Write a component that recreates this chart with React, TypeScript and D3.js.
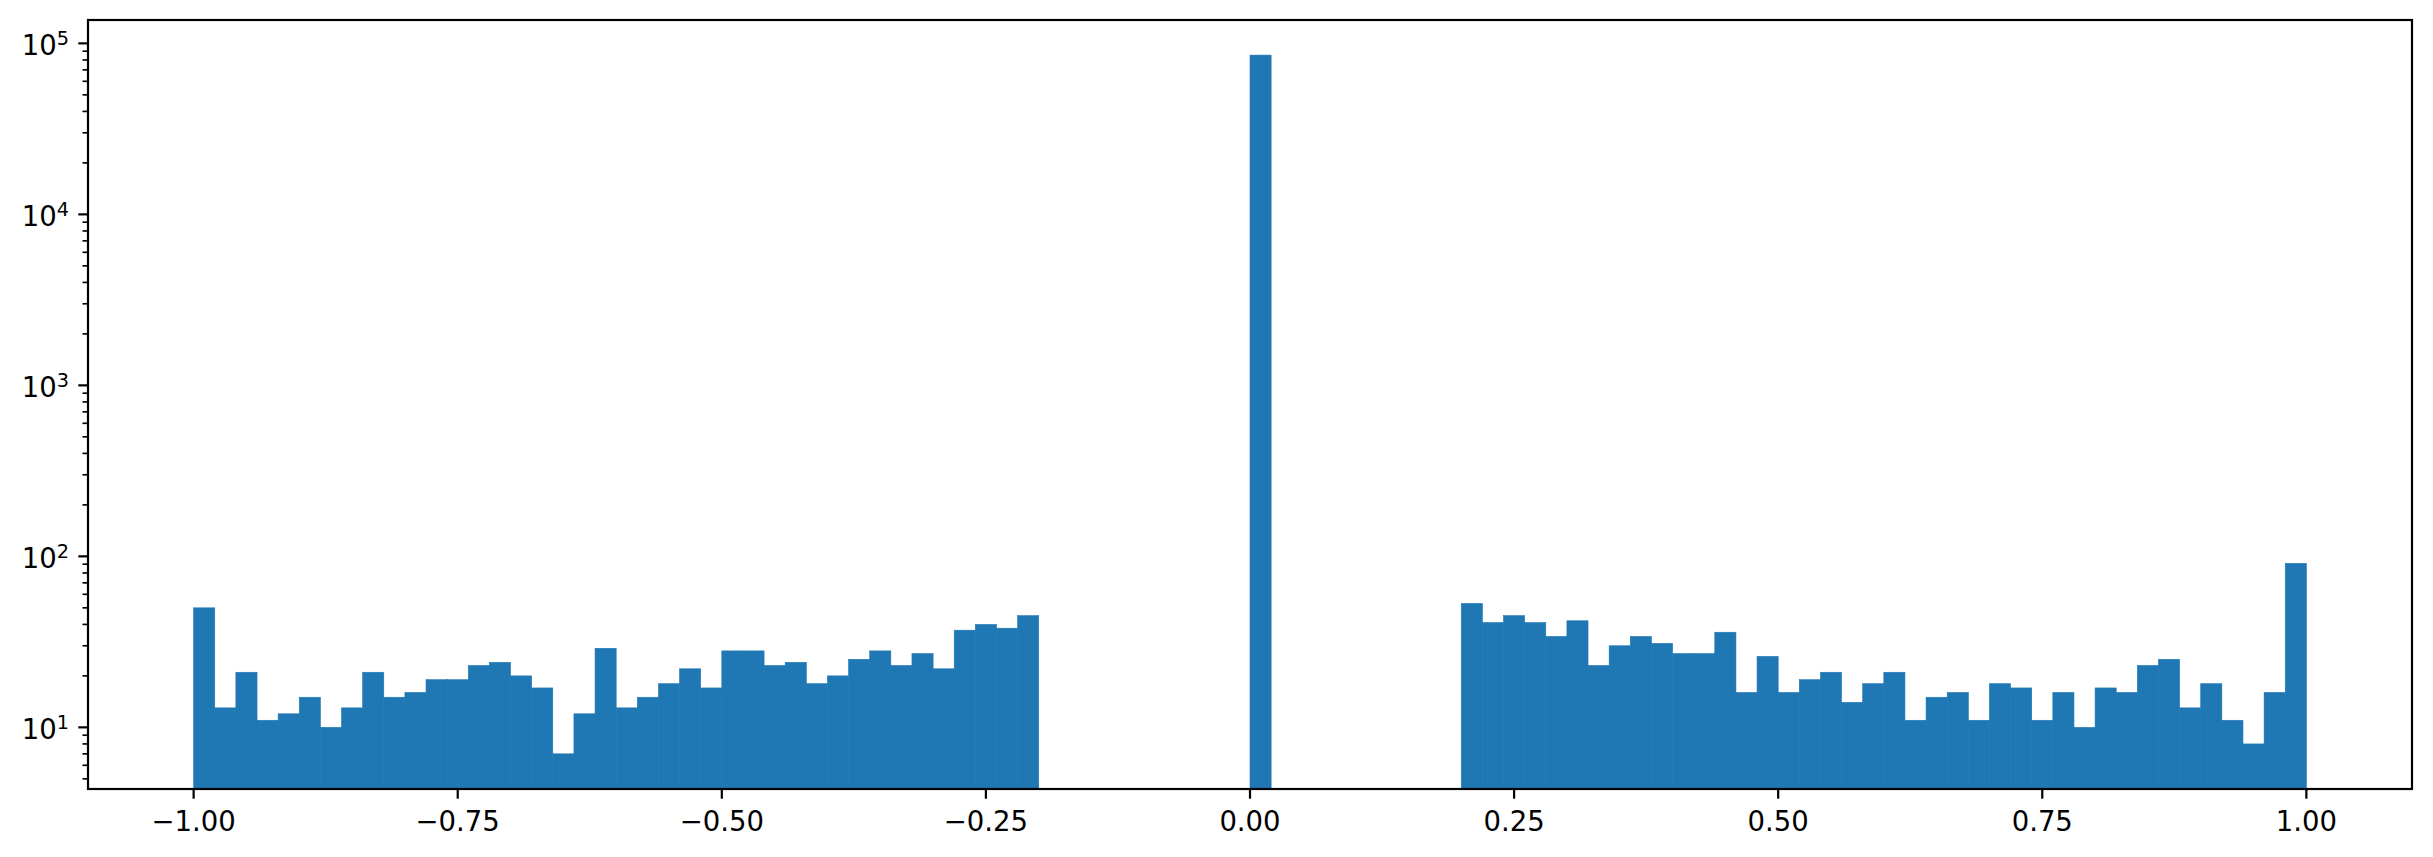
import * as React from 'react';
import { scaleLinear, scaleLog } from 'd3';

// histogram counts, bin width 0.02
const BIN_WIDTH = 0.02;
// bins starting at -1.00 ... -0.22
const leftStart = -1.0;
const leftCounts = [
  50, 13, 21, 11, 12, 15, 10, 13, 21, 15,
  16, 19, 19, 23, 24, 20, 17, 7, 12, 29,
  13, 15, 18, 22, 17, 28, 28, 23, 24, 18,
  20, 25, 28, 23, 27, 22, 37, 40, 38, 45,
];
// bin 0.00 - 0.02
const centerStart = 0.0;
const centerCounts = [85400];
// bins starting at 0.20 ... 0.98
const rightStart = 0.2;
const rightCounts = [
  53, 41, 45, 41, 34, 42, 23, 30, 34, 31,
  27, 27, 36, 16, 26, 16, 19, 21, 14, 18,
  21, 11, 15, 16, 11, 18, 17, 11, 16, 10,
  17, 16, 23, 25, 13, 18, 11, 8, 16, 91,
];

const xTicks = [-1, -0.75, -0.5, -0.25, 0, 0.25, 0.5, 0.75, 1];
const yMajor = [1, 2, 3, 4, 5];

const W = 2433, H = 857;
const M = { left: 88, right: 2412, top: 20, bottom: 789 };
const BLUE = '#1f77b4';
const FONT = 'DejaVu Sans, sans-serif';
const FS = 27.5;
const TICK = 9.7;
const MINOR = 5.5;
const LW = 2.2;

export default function App() {
  const x = scaleLinear().domain([-1.1, 1.1]).range([M.left, M.right]);
  const y = scaleLog().domain([4.36, 137000]).range([M.bottom, M.top]);

  const bars: { x0: number; v: number }[] = [];
  [[leftStart, leftCounts], [centerStart, centerCounts], [rightStart, rightCounts]].forEach(
    ([start, counts]: any) => {
      (counts as number[]).forEach((v, i) => {
        bars.push({ x0: (start as number) + i * BIN_WIDTH, v });
      });
    }
  );

  const [d0, d1] = y.domain();
  const minor: number[] = [];
  for (let e = 0; e <= 5; e++) {
    for (let m = 2; m <= 9; m++) {
      const v = m * Math.pow(10, e);
      if (v >= d0 && v <= d1) minor.push(v);
    }
  }

  return (
    <svg width={W} height={H} style={{ position: 'fixed', left: 0, top: 0, background: '#fff' }}
      fontFamily={FONT}>
      <defs>
        <clipPath id="plot">
          <rect x={M.left} y={M.top} width={M.right - M.left} height={M.bottom - M.top} />
        </clipPath>
      </defs>
      <rect x={0} y={0} width={W} height={H} fill="#fff" />
      <g clipPath="url(#plot)">
        {bars.map((b, i) => {
          const x0 = x(b.x0), x1 = x(b.x0 + BIN_WIDTH);
          const yt = y(b.v);
          return (
            <rect key={i} x={x0} y={yt} width={x1 - x0} height={M.bottom - yt}
              fill={BLUE} stroke={BLUE} strokeWidth={0.6} />
          );
        })}
      </g>

      {/* x axis ticks */}
      {xTicks.map(t => (
        <g key={t}>
          <line x1={x(t)} x2={x(t)} y1={M.bottom} y2={M.bottom + TICK} stroke="#000" strokeWidth={LW} />
          <text x={x(t)} y={831} textAnchor="middle" fontSize={FS}>
            {(t < 0 ? '\u2212' : '') + Math.abs(t).toFixed(2)}
          </text>
        </g>
      ))}

      {/* y axis minor ticks */}
      {minor.map(v => (
        <line key={v} x1={M.left - MINOR} x2={M.left} y1={y(v)} y2={y(v)} stroke="#000" strokeWidth={LW * 0.75} />
      ))}
      {/* y axis major ticks */}
      {yMajor.map(e => {
        const yy = y(Math.pow(10, e));
        return (
          <g key={e}>
            <line x1={M.left - TICK} x2={M.left} y1={yy} y2={yy} stroke="#000" strokeWidth={LW} />
            <text x={69} y={yy + 11.7} textAnchor="end" fontSize={FS}>
              <tspan>10</tspan>
              <tspan dy={-10} fontSize={19.3}>{e}</tspan>
            </text>
          </g>
        );
      })}

      {/* frame */}
      <rect x={M.left} y={M.top} width={M.right - M.left} height={M.bottom - M.top}
        fill="none" stroke="#000" strokeWidth={LW} />
    </svg>
  );
}
